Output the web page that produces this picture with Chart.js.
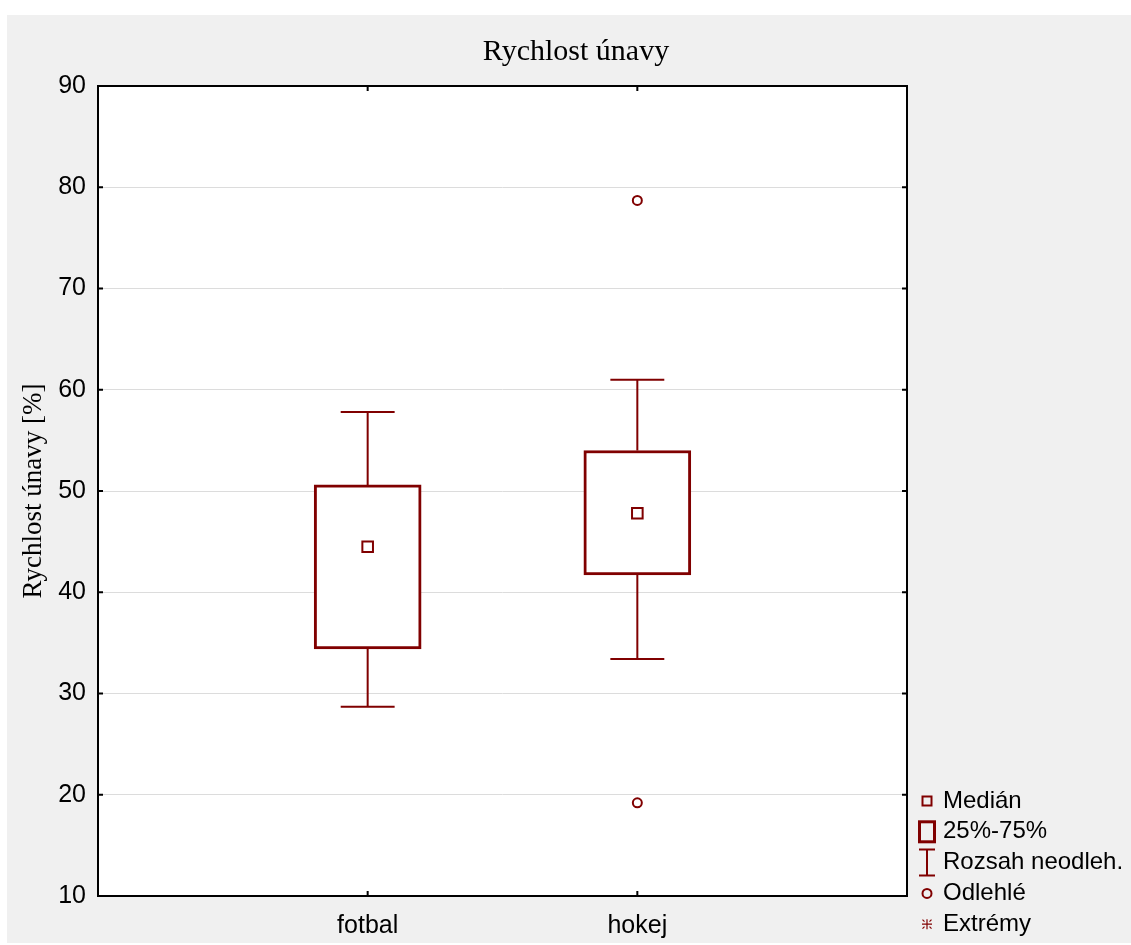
<!DOCTYPE html>
<html>
<head>
<meta charset="utf-8">
<script src="https://cdn.jsdelivr.net/npm/chart.js@4"></script>
<style>
  html, body { margin: 0; padding: 0; background: #ffffff; }
  #wrap { width: 1131px; height: 945px; }
</style>
</head>
<body>
<div id="wrap"><canvas id="chart" width="1131" height="945"></canvas></div>
<script>
// Box plot data: one entry per group
const categories = ['fotbal', 'hokej'];
const whiskerLow = [28.7, 33.4];
const quartile1 = [34.4, 41.7];
const medians = [44.5, 47.8];
const quartile3 = [50.6, 54.0];
const whiskerHigh = [57.8, 61.0];
const outlierValues = [[], [78.7, 19.2]];
const yTickValues = [10, 20, 30, 40, 50, 60, 70, 80, 90];
const chartTitle = 'Rychlost únavy';
const legendLabels = ['Medián', '25%-75%', 'Rozsah neodleh.', 'Odlehlé', 'Extrémy'];

const RED = '#800000';
const CAP_HALF = 0.1;          // half-width of whisker caps, in x units
const SANS = "'Liberation Sans', Arial, sans-serif";
const SERIF = "'Liberation Serif', 'Times New Roman', serif";

const pos = (i) => i + 1;

const boxData = categories.map((c, i) => ({ x: pos(i), y: [quartile1[i], quartile3[i]] }));
const stemData = categories.flatMap((c, i) => [
  { x: pos(i), y: quartile3[i] }, { x: pos(i), y: whiskerHigh[i] }, { x: pos(i), y: null },
  { x: pos(i), y: quartile1[i] }, { x: pos(i), y: whiskerLow[i] }, { x: pos(i), y: null }
]);
const capData = categories.flatMap((c, i) => [
  { x: pos(i) - CAP_HALF, y: whiskerHigh[i] }, { x: pos(i) + CAP_HALF, y: whiskerHigh[i] }, { x: pos(i), y: null },
  { x: pos(i) - CAP_HALF, y: whiskerLow[i] }, { x: pos(i) + CAP_HALF, y: whiskerLow[i] }, { x: pos(i), y: null }
]);
const medianData = categories.map((c, i) => ({ x: pos(i), y: medians[i] }));
const outlierData = categories.flatMap((c, i) => outlierValues[i].map(v => ({ x: pos(i), y: v })));

// Page panel, white plot area, frame with inward ticks, title and legend
const framePlugin = {
  id: 'frame',
  beforeDraw(chart) {
    const { ctx, chartArea: a } = chart;
    ctx.save();
    ctx.fillStyle = '#ffffff';
    ctx.fillRect(0, 0, chart.width, chart.height);
    ctx.fillStyle = '#f0f0f0';
    ctx.fillRect(7, 15, chart.width - 7, 928);
    ctx.fillStyle = '#ffffff';
    ctx.fillRect(a.left, a.top, a.right - a.left, a.bottom - a.top);
    ctx.restore();
  },
  afterDraw(chart) {
    const { ctx, chartArea: a, scales } = chart;
    ctx.save();
    ctx.strokeStyle = '#000000';
    ctx.lineWidth = 2;
    ctx.strokeRect(a.left, a.top, a.right - a.left, a.bottom - a.top);
    const tl = 5;
    ctx.beginPath();
    scales.y.ticks.forEach(t => {
      const y = scales.y.getPixelForValue(t.value);
      ctx.moveTo(a.left, y); ctx.lineTo(a.left + tl, y);
      ctx.moveTo(a.right, y); ctx.lineTo(a.right - tl, y);
    });
    scales.x.ticks.forEach(t => {
      const x = scales.x.getPixelForValue(t.value);
      ctx.moveTo(x, a.top); ctx.lineTo(x, a.top + tl);
      ctx.moveTo(x, a.bottom); ctx.lineTo(x, a.bottom - tl);
    });
    ctx.stroke();

    // title, centred on the grey panel
    ctx.fillStyle = '#000000';
    ctx.font = '30px ' + SERIF;
    ctx.textAlign = 'center';
    ctx.textBaseline = 'alphabetic';
    ctx.fillText(chartTitle, 576, 60);

    // legend
    const ix = 927, tx = 943, y0 = 801, step = 30.8;
    ctx.font = '24px ' + SANS;
    ctx.textAlign = 'left';
    ctx.textBaseline = 'middle';
    legendLabels.forEach((lab, k) => ctx.fillText(lab, tx, y0 + k * step));
    ctx.strokeStyle = RED;
    // median marker
    ctx.lineWidth = 2;
    ctx.strokeRect(ix - 4.5, y0 - 4.5, 9, 9);
    // quartile box
    let y = y0 + step;
    ctx.lineWidth = 3;
    ctx.strokeRect(ix - 7.5, y - 10, 15, 20);
    // whisker range
    y = y0 + 2 * step;
    ctx.lineWidth = 2;
    ctx.beginPath();
    ctx.moveTo(ix - 8, y - 13); ctx.lineTo(ix + 8, y - 13);
    ctx.moveTo(ix, y - 13); ctx.lineTo(ix, y + 13);
    ctx.moveTo(ix - 8, y + 13); ctx.lineTo(ix + 8, y + 13);
    ctx.stroke();
    // outlier circle
    y = y0 + 3 * step;
    ctx.beginPath();
    ctx.arc(ix, y, 4.5, 0, Math.PI * 2);
    ctx.stroke();
    // extreme asterisk
    y = y0 + 4 * step;
    ctx.lineWidth = 1.2;
    ctx.beginPath();
    ctx.moveTo(ix - 5, y); ctx.lineTo(ix + 5, y);
    ctx.moveTo(ix, y - 5); ctx.lineTo(ix, y + 5);
    [[-1, -1], [1, -1], [-1, 1], [1, 1]].forEach(([dx, dy]) => {
      ctx.moveTo(ix + dx * 2.5, y + dy * 2.5); ctx.lineTo(ix + dx * 4.5, y + dy * 4.5);
    });
    ctx.stroke();
    ctx.restore();
  }
};

new Chart(document.getElementById('chart'), {
  type: 'scatter',
  data: {
    datasets: [
      { type: 'bar', data: boxData, backgroundColor: '#ffffff', borderColor: RED, borderWidth: 3,
        borderSkipped: false, barThickness: 107, grouped: false, order: 3 },
      { type: 'line', data: stemData, borderColor: RED, borderWidth: 2, pointRadius: 0,
        spanGaps: false, fill: false, order: 2 },
      { type: 'line', data: capData, borderColor: RED, borderWidth: 2, pointRadius: 0,
        spanGaps: false, fill: false, order: 2 },
      { type: 'scatter', data: medianData, pointStyle: 'rect', pointRadius: 7.5, pointBorderWidth: 2,
        pointBackgroundColor: '#ffffff', pointBorderColor: RED, order: 1 },
      { type: 'scatter', data: outlierData, pointStyle: 'circle', pointRadius: 4.5, pointBorderWidth: 2,
        pointBackgroundColor: '#ffffff', pointBorderColor: RED, order: 1 }
    ]
  },
  options: {
    responsive: false,
    animation: false,
    events: [],
    layout: { padding: { left: 7, top: 86, right: 224, bottom: 2 } },
    plugins: {
      legend: { display: false },
      tooltip: { enabled: false },
      title: { display: false }
    },
    scales: {
      x: {
        type: 'linear',
        min: 0,
        max: categories.length + 1,
        offset: false,
        afterBuildTicks: (s) => { s.ticks = categories.map((c, i) => ({ value: pos(i) })); },
        afterFit: (s) => { s.height = 47; },
        grid: { display: false, drawTicks: false },
        border: { display: false },
        ticks: {
          autoSkip: false,
          maxRotation: 0,
          padding: 15,
          color: '#000000',
          font: { family: SANS, size: 25 },
          callback: (v) => categories[v - 1] ?? ''
        }
      },
      y: {
        min: yTickValues[0],
        max: yTickValues[yTickValues.length - 1],
        afterBuildTicks: (s) => { s.ticks = yTickValues.map(v => ({ value: v })); },
        afterFit: (s) => { s.width = 91; },
        grid: { color: '#dcdcdc', lineWidth: 1, drawTicks: false },
        border: { display: false },
        ticks: {
          padding: 12,
          color: '#000000',
          font: { family: SANS, size: 25 }
        },
        title: {
          display: true,
          text: 'Rychlost únavy [%]',
          color: '#000000',
          font: { family: SERIF, size: 27, weight: 'normal', lineHeight: 1.2 },
          padding: { top: 11, bottom: 0 }
        }
      }
    }
  },
  plugins: [framePlugin]
});
</script>
</body>
</html>
